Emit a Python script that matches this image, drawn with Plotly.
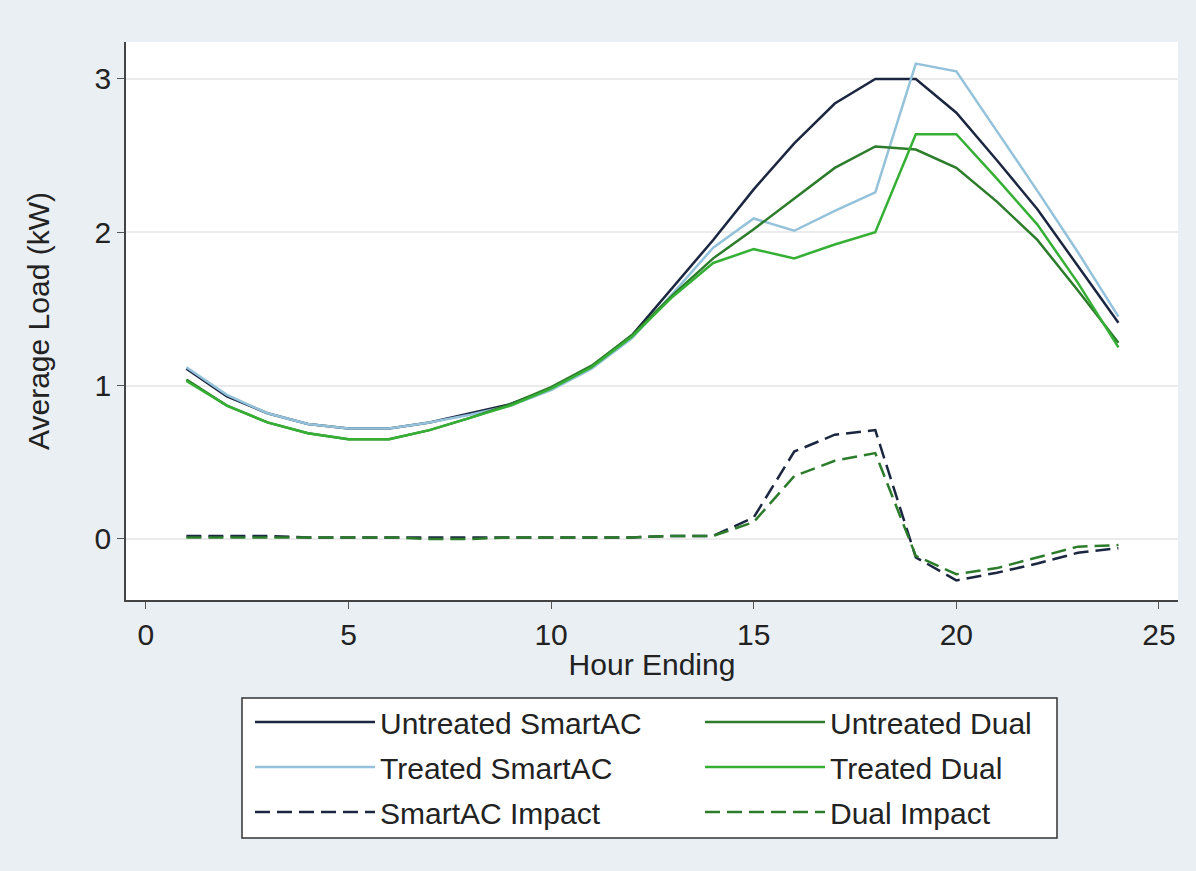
import plotly.graph_objects as go

hours = list(range(1, 25))

untreated_smartac = [1.11, 0.93, 0.82, 0.75, 0.72, 0.72, 0.76, 0.82, 0.88, 0.98, 1.12, 1.33,
                     1.64, 1.95, 2.28, 2.58, 2.84, 3.00, 3.00, 2.78, 2.47, 2.15, 1.78, 1.41]
treated_smartac = [1.12, 0.94, 0.82, 0.75, 0.72, 0.72, 0.76, 0.81, 0.87, 0.97, 1.11, 1.31,
                   1.60, 1.90, 2.09, 2.01, 2.14, 2.26, 3.10, 3.05, 2.66, 2.27, 1.87, 1.45]
untreated_dual = [1.04, 0.87, 0.76, 0.69, 0.65, 0.65, 0.71, 0.79, 0.88, 0.99, 1.13, 1.33,
                  1.59, 1.83, 2.02, 2.22, 2.42, 2.56, 2.54, 2.42, 2.20, 1.95, 1.62, 1.28]
treated_dual = [1.03, 0.87, 0.76, 0.69, 0.65, 0.65, 0.71, 0.79, 0.87, 0.98, 1.12, 1.32,
                1.58, 1.80, 1.89, 1.83, 1.92, 2.00, 2.64, 2.64, 2.35, 2.05, 1.67, 1.25]
smartac_impact = [0.02, 0.02, 0.02, 0.01, 0.01, 0.01, 0.01, 0.01, 0.01, 0.01, 0.01, 0.01,
                  0.02, 0.02, 0.14, 0.57, 0.68, 0.71, -0.12, -0.27, -0.22, -0.16, -0.09, -0.06]
dual_impact = [0.01, 0.01, 0.01, 0.01, 0.01, 0.01, 0.00, 0.00, 0.01, 0.01, 0.01, 0.01,
               0.02, 0.02, 0.11, 0.41, 0.51, 0.56, -0.11, -0.23, -0.19, -0.12, -0.05, -0.04]

x_ticks = [0, 5, 10, 15, 20, 25]
y_ticks = [0, 1, 2, 3]

NAVY = "#1b2640"
LBLUE = "#93c2da"
DGREEN = "#2c7c2c"
BGREEN = "#35b035"
DASH = "15px,7px"

fig = go.Figure()
series = [
    ("Untreated SmartAC", untreated_smartac, NAVY, "solid", "legend"),
    ("Treated SmartAC", treated_smartac, LBLUE, "solid", "legend"),
    ("SmartAC Impact", smartac_impact, NAVY, DASH, "legend"),
    ("Untreated Dual", untreated_dual, DGREEN, "solid", "legend2"),
    ("Treated Dual", treated_dual, BGREEN, "solid", "legend2"),
    ("Dual Impact", dual_impact, DGREEN, DASH, "legend2"),
]
for name, vals, col, dash, leg in series:
    fig.add_trace(go.Scatter(x=hours, y=vals, name=name, mode="lines", legend=leg,
                             legendgroup=name,
                             line=dict(color=col, width=2.5, dash=dash)))

FONT = "Liberation Sans, Arial, sans-serif"
FS = 30
plot_l, plot_r, plot_t, plot_b = 126, 1178, 42, 600
pw, ph = plot_r - plot_l, plot_b - plot_t


def px_x(v):
    return (v - plot_l) / pw


def px_y(v):
    return (plot_b - v) / ph


legend_common = dict(orientation="v", xanchor="left", yanchor="top",
                     bgcolor="rgba(0,0,0,0)", borderwidth=0,
                     font=dict(size=FS, family=FONT, color="#222"),
                     itemwidth=120, tracegroupgap=3, traceorder="grouped")

fig.update_layout(
    width=1196, height=871,
    paper_bgcolor="#e9eff3", plot_bgcolor="white",
    margin=dict(l=plot_l, r=1196 - plot_r, t=plot_t, b=871 - plot_b),
    font=dict(family=FONT, size=FS, color="#222"),
    xaxis=dict(range=[-0.49, 25.47], tickvals=x_ticks, ticks="outside", ticklen=7,
               tickcolor="#555", showline=True, linecolor="#444", linewidth=1.5,
               showgrid=False, zeroline=False, tickfont=dict(size=FS),
               title=dict(text="Hour Ending", font=dict(size=FS), standoff=4)),
    yaxis=dict(range=[-0.398, 3.241], tickvals=y_ticks, ticks="outside", ticklen=7,
               tickcolor="#555", showline=True, linecolor="#444", linewidth=1.5,
               showgrid=True, gridcolor="#ebebeb", gridwidth=1.5, zeroline=False,
               tickfont=dict(size=FS),
               title=dict(text="Average Load (kW)", font=dict(size=FS), standoff=36)),
    legend=dict(x=px_x(250), y=px_y(696), **legend_common),
    legend2=dict(x=px_x(700), y=px_y(696), **legend_common),
    shapes=[dict(type="rect", xref="paper", yref="paper",
                 x0=px_x(242), x1=px_x(1057), y0=px_y(838), y1=px_y(698),
                 fillcolor="white", line=dict(color="#333", width=1.5), layer="below")],
    showlegend=True,
)

fig.write_html("out.html")
